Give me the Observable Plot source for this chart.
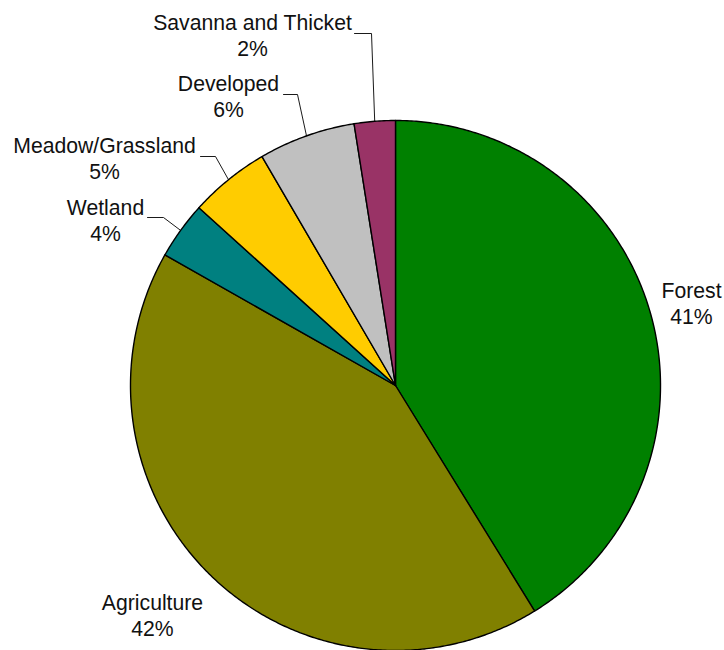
<!DOCTYPE html>
<html><head><meta charset="utf-8">
<script src="https://cdn.jsdelivr.net/npm/d3@7"></script>
<script src="https://cdn.jsdelivr.net/npm/@observablehq/plot@0.6"></script>
<style>html,body{margin:0;padding:0;background:#fff;overflow:hidden;}</style>
</head><body><div id="chart"></div>
<script>
// ---- data ----
const categories = ["Forest", "Agriculture", "Wetland", "Meadow/Grassland", "Developed", "Savanna and Thicket"];
const shares = [41.2, 42.0, 3.5, 4.9, 5.9, 2.5];
const pctLabels = ["41%", "42%", "4%", "5%", "6%", "2%"];
const colors = ["#008000", "#808000", "#008080", "#FFCC00", "#C0C0C0", "#993366"];

// ---- layout (pixel offsets relative to the pie centre) ----
const R = 265;
const labelPos = [[296, -83], [-243, 229], [-290, -166], [-291, -228], [-167, -290], [-143, -351]];
const leaderLabelEnd = [null, null, [-248, -168], [-195, -229], [-112, -291], [-41, -352]];
const leaderElbow = [null, null, [-232, -168], [-180, -229], [-98, -291], [-24, -352]];

const rows = categories.map((name, i) => ({name, value: shares[i], label: pctLabels[i], i}));
const arcs = d3.pie().sort(null).value(d => d.value).startAngle(0).endAngle(2 * Math.PI)(rows);

const polar = (a, r) => ({x: r * Math.sin(a), y: -r * Math.cos(a)});

const slicePts = [];
arcs.forEach(a => {
  const name = a.data.name;
  slicePts.push({name, x: 0, y: 0});
  const n = Math.max(2, Math.ceil((a.endAngle - a.startAngle) / (Math.PI / 360)));
  for (let k = 0; k <= n; k++) {
    const t = a.startAngle + (a.endAngle - a.startAngle) * k / n;
    slicePts.push({name, ...polar(t, R)});
  }
  slicePts.push({name, x: 0, y: 0});
});

const labelData = arcs.map(a => ({
  name: a.data.name,
  text: a.data.name + "\n" + a.data.label,
  x: labelPos[a.data.i][0],
  y: labelPos[a.data.i][1]
}));

const leaderPts = [];
arcs.forEach(a => {
  const i = a.data.i;
  if (!leaderElbow[i]) return;
  const mid = (a.startAngle + a.endAngle) / 2;
  leaderPts.push({name: a.data.name, x: leaderLabelEnd[i][0], y: leaderLabelEnd[i][1]});
  leaderPts.push({name: a.data.name, x: leaderElbow[i][0], y: leaderElbow[i][1]});
  leaderPts.push({name: a.data.name, ...polar(mid, R)});
});

const chart = Plot.plot({
  width: 724,
  height: 650,
  margin: 0,
  x: {domain: [-395, 329], range: [0, 724], axis: null},
  y: {domain: [-385, 265], range: [0, 650], axis: null},
  color: {domain: categories, range: colors},
  style: {background: "#fff"},
  marks: [
    Plot.line(slicePts, {x: "x", y: "y", z: "name", fill: "name", stroke: "black", strokeWidth: 1.4, strokeLinejoin: "round", curve: "linear"}),
    Plot.line(leaderPts, {x: "x", y: "y", z: "name", stroke: "black", strokeWidth: 0.9, curve: "linear"}),
    Plot.text(labelData, {x: "x", y: "y", text: "text", fontSize: 21.2, lineHeight: 1.23, fill: "#111", fontFamily: "'Liberation Sans', Arial, sans-serif", textAnchor: "middle"})
  ]
});
document.getElementById("chart").appendChild(chart);
</script>
</body></html>
